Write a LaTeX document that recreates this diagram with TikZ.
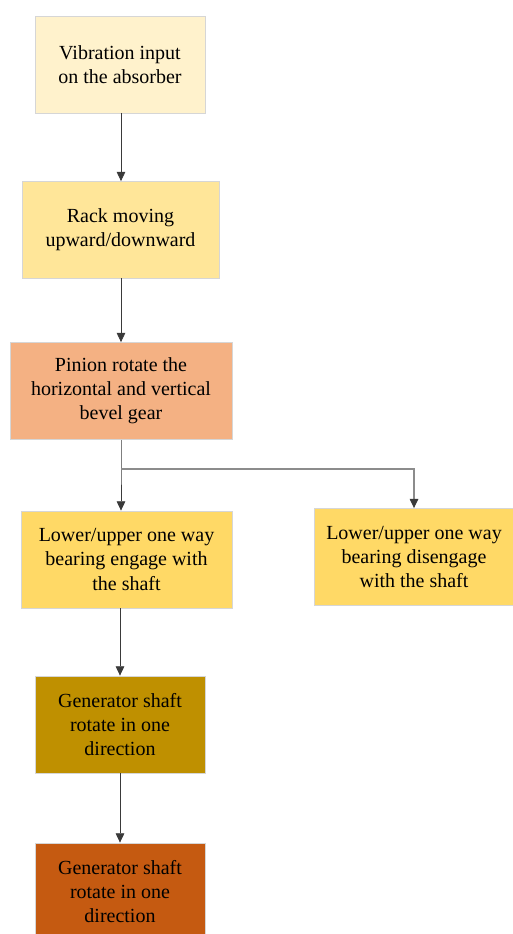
\documentclass[tikz,border=0pt]{standalone}
\usepackage{fontspec}
\setmainfont{Liberation Serif}
\usetikzlibrary{arrows.meta, positioning}
\definecolor{creamfill}{HTML}{FFF2CC}
\definecolor{sandfill}{HTML}{FFE699}
\definecolor{salmonfill}{HTML}{F4B183}
\definecolor{goldfill}{HTML}{FFD966}
\definecolor{ochrefill}{HTML}{BF9000}
\definecolor{rustfill}{HTML}{C55A11}
\definecolor{boxedge}{HTML}{D6D6D6}
\definecolor{linkgray}{HTML}{3A3A3A}
\definecolor{branchgray}{HTML}{8C8C8C}
\tikzset{
    flowchart/.style={>={Triangle[length=7pt, width=6.5pt]}, font=\fontsize{15}{18}\selectfont, x=0.75pt, y=-0.75pt},
    stage/.style={draw=boxedge, line width=0.6pt, minimum height=72.75pt, align=center, inner sep=0pt},
    link/.style={->, draw=linkgray, line width=0.6pt},
    % the side branch is drawn a bit lighter, its tip stays dark
    branchlink/.style={-{Triangle[length=7pt, width=6.5pt, color=linkgray]}, draw=branchgray, line width=0.8pt},
}
\begin{document}
\begin{tikzpicture}[flowchart]
        \useasboundingbox (0,0) rectangle (513,934);
        \node[stage, fill=creamfill,  minimum width=127.5pt]  (vib)    at (120,64.5)  {Vibration input\\on the absorber};
        \node[stage, fill=sandfill,   minimum width=147.75pt] (rack)   at (120.5,230) {Rack moving\\upward/downward};
        \node[stage, fill=salmonfill, minimum width=166.5pt]  (pinion) at (121,391)   {Pinion rotate the\\horizontal and vertical\\bevel gear};
        \node[stage, fill=goldfill,   minimum width=158.25pt] (engage) at (126.5,559.5) {Lower/upper one way\\bearing engage with\\the shaft};
        \node[stage, fill=goldfill,   minimum width=150pt]    (disengage) at (414,557) {Lower/upper one way\\bearing disengage\\with the shaft};
        \node[stage, fill=ochrefill,  minimum width=127.5pt]  (genA)   at (120,724.5) {Generator shaft\\rotate in one\\direction};
        \node[stage, fill=rustfill,   minimum width=127.5pt]  (genB)   at (120,891.5) {Generator shaft\\rotate in one\\direction};
        \coordinate (split) at (121,469);

        \draw[link] (121,113) coordinate (vibout) -- (vibout |- rack.north);
        \draw[link] (121,278) coordinate (rackout) -- (rackout |- pinion.north);
        \draw[link] (pinion.south) -- (split) -- (split |- engage.north);
        \draw[branchlink] (split) -| (disengage.north);
        \draw[link] (genA.north |- engage.south) -- (genA.north);
        \draw[link] (genA.south) -- (genB.north);
    \end{tikzpicture}
\end{document}
